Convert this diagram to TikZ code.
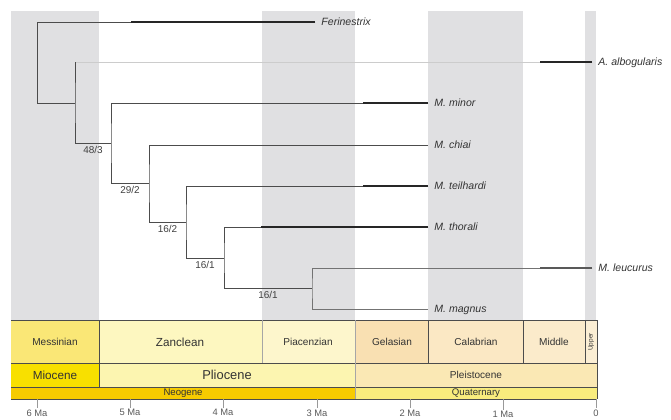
\documentclass[tikz,border=0pt]{standalone}
\usepackage{fontspec}
\setmainfont{Liberation Sans}
\usetikzlibrary{positioning,calc}
\definecolor{bandgray}{RGB}{224,224,226}
\definecolor{messinian}{RGB}{250,231,118}
\definecolor{zanclean}{RGB}{253,247,192}
\definecolor{piacenzian}{RGB}{253,246,204}
\definecolor{gelasian}{RGB}{249,224,178}
\definecolor{calabrian}{RGB}{251,232,196}
\definecolor{middlepl}{RGB}{251,235,203}
\definecolor{upperpl}{RGB}{251,238,212}
\definecolor{miocene}{RGB}{248,224,0}
\definecolor{pliocene}{RGB}{252,245,176}
\definecolor{pleistocene}{RGB}{250,232,180}
\definecolor{neogene}{RGB}{247,203,0}
\definecolor{quaternary}{RGB}{249,236,125}
\tikzset{
    branch/.style = {draw, line width=0.6pt, black!70},
    faintbranch/.style = {draw, line width=0.6pt, black!20},
    fossilrange/.style = {draw, line width=1.3pt, black!85},
    taxon/.style = {anchor=west, inner sep=0pt, outer xsep=5.5pt,
        text height=6.4pt, text depth=0pt, text=black!80,
        font=\fontsize{9}{10}\selectfont\itshape},
    support/.style = {below, inner sep=2.5pt, text=black!75,
        font=\fontsize{8.5}{9}\selectfont},
    unitbox/.style = {draw=black!70, line width=0.5pt},
    unitlabel/.style = {text=black!80, inner sep=0pt,
        font=\fontsize{8.6}{9}\selectfont},
    axistick/.style = {draw, black!40, line width=0.6pt},
    ticklabel/.style = {below, inner sep=1pt, text=black!65,
        font=\fontsize{8}{9}\selectfont}
}

\begin{document}
\begin{tikzpicture}[x=0.03cm, y=-0.03cm]
    \useasboundingbox (0,0) rectangle (671,419);
    % stage bands
    \fill[bandgray] (11,11) rectangle (99,320);
    \fill[bandgray] (262,11) rectangle (355,320);
    \fill[bandgray] (428,11) rectangle (523,320);
    \fill[bandgray] (585,11) rectangle (596,320);

    % tips
    \node [taxon] (fer) at (315,22) {Ferinestrix};
    \node [taxon] (albo) at (592,62) {A. albogularis};
    \node [taxon] (minor) at (428,103) {M. minor};
    \node [taxon] (chiai) at (428,145) {M. chiai};
    \node [taxon] (teil) at (428,186) {M. teilhardi};
    \node [taxon] (thor) at (428,227) {M. thorali};
    \node [taxon] (leuc) at (592,268) {M. leucurus};
    \node [taxon] (magn) at (428,309) {M. magnus};

    % internal nodes
    \coordinate (n1) at (37,103);
    \coordinate (n2) at (75,103);
    \coordinate (n3) at (111,143);
    \coordinate (n4) at (149,183);
    \coordinate (n5) at (186,222);
    \coordinate (n6) at (224,258);
    \coordinate (n7) at (312,288);

    % branches
    \draw[faintbranch] (albo.west) -| (n2);
    \draw[branch] (fer.west) -| (n1) -- (n2);
    \draw[branch] (albo.west -| n2) -- (n2) |- node[support, pos=0.75]{48/3} (n3);
    \draw[branch] (minor.west) -| (n3) |- node[support, pos=0.75]{29/2} (n4);
    \draw[branch] (chiai.west) -| (n4) |- node[support, pos=0.75]{16/2} (n5);
    \draw[branch] (teil.west) -| (n5) |- node[support, pos=0.75]{16/1} (n6);
    \draw[branch] (thor.west) -| (n6) |- node[support, pos=0.75]{16/1} (n7);
    \draw[branch, black!55] (leuc.west) -| (n7) |- (magn.west);

    % fossil ranges
    \draw[fossilrange] (fer.west) -- +(-184,0);
    \draw[fossilrange] (albo.west) -- +(-52,0);
    \draw[fossilrange] (minor.west) -- +(-65,0);
    \draw[fossilrange] (teil.west) -- +(-65,0);
    \draw[fossilrange] (thor.west) -- +(-167,0);
    \draw[fossilrange, black!65] (leuc.west) -- +(-52,0);

    % time scale: stages
    \fill[messinian] (11,320) rectangle (99,363);
    \fill[zanclean] (99,320) rectangle (262,363);
    \fill[piacenzian] (262,320) rectangle (355,363);
    \fill[gelasian] (355,320) rectangle (428,363);
    \fill[calabrian] (428,320) rectangle (523,363);
    \fill[middlepl] (523,320) rectangle (585,363);
    \fill[upperpl] (585,320) rectangle (597,363);
    % epochs
    \fill[miocene] (11,363) rectangle (99,387);
    \fill[pliocene] (99,363) rectangle (355,387);
    \fill[pleistocene] (355,363) rectangle (597,387);
    % periods
    \fill[neogene] (11,387) rectangle (355,399);
    \fill[quaternary] (355,387) rectangle (597,399);

    \draw[unitbox] (11,320) -- (597,320);
    \draw[unitbox] (11,363) -- (597,363);
    \draw[unitbox] (11,387) -- (597,387);
    \draw[unitbox] (11,399) -- (597,399);
    \draw[unitbox] (597,320) -- (597,399);
    \draw[unitbox] (99,320) -- (99,387);
    \draw[unitbox, black!35] (262,320) -- (262,363);
    \draw[unitbox, black!35] (355,320) -- (355,399);
    \draw[unitbox] (428,320) -- (428,363);
    \draw[unitbox] (523,320) -- (523,363);
    \draw[unitbox] (585,320) -- (585,363);

    \node [unitlabel] (mes) at (55,342) {Messinian};
    \node [unitlabel, font=\fontsize{10}{11}\selectfont] (zan) at (180,342) {Zanclean};
    \node [unitlabel] (pia) at (308,342) {Piacenzian};
    \node [unitlabel] (gel) at (392,342) {Gelasian};
    \node [unitlabel] (cal) at (476,342) {Calabrian};
    \node [unitlabel] (mid) at (554,342) {Middle};
    \node [unitlabel, rotate=90, font=\fontsize{5.5}{6}\selectfont] (upp) at (591,342) {Upper};
    \node [unitlabel, font=\fontsize{10}{11}\selectfont] (mio) at (55,375) {Miocene};
    \node [unitlabel, font=\fontsize{11}{12}\selectfont] (pli) at (227,375) {Pliocene};
    \node [unitlabel] (ple) at (476,375) {Pleistocene};
    \node [unitlabel, font=\fontsize{8.2}{9}\selectfont] (neo) at (183,393) {Neogene};
    \node [unitlabel, font=\fontsize{8.2}{9}\selectfont] (qua) at (476,393) {Quaternary};

    % time axis
    \draw[axistick] (37,399) -- (37,408) node[ticklabel] {6 Ma};
    \draw[axistick] (130,399) -- (130,408) node[ticklabel] {5 Ma};
    \draw[axistick] (223,399) -- (223,408) node[ticklabel] {4 Ma};
    \draw[axistick] (317,399) -- (317,408) node[ticklabel] {3 Ma};
    \draw[axistick] (410,399) -- (410,408) node[ticklabel] {2 Ma};
    \draw[axistick] (503,399) -- (503,410) node[ticklabel] {1 Ma};
    \draw[axistick] (596,399) -- (596,408) node[ticklabel] {0};
\end{tikzpicture}
\end{document}
